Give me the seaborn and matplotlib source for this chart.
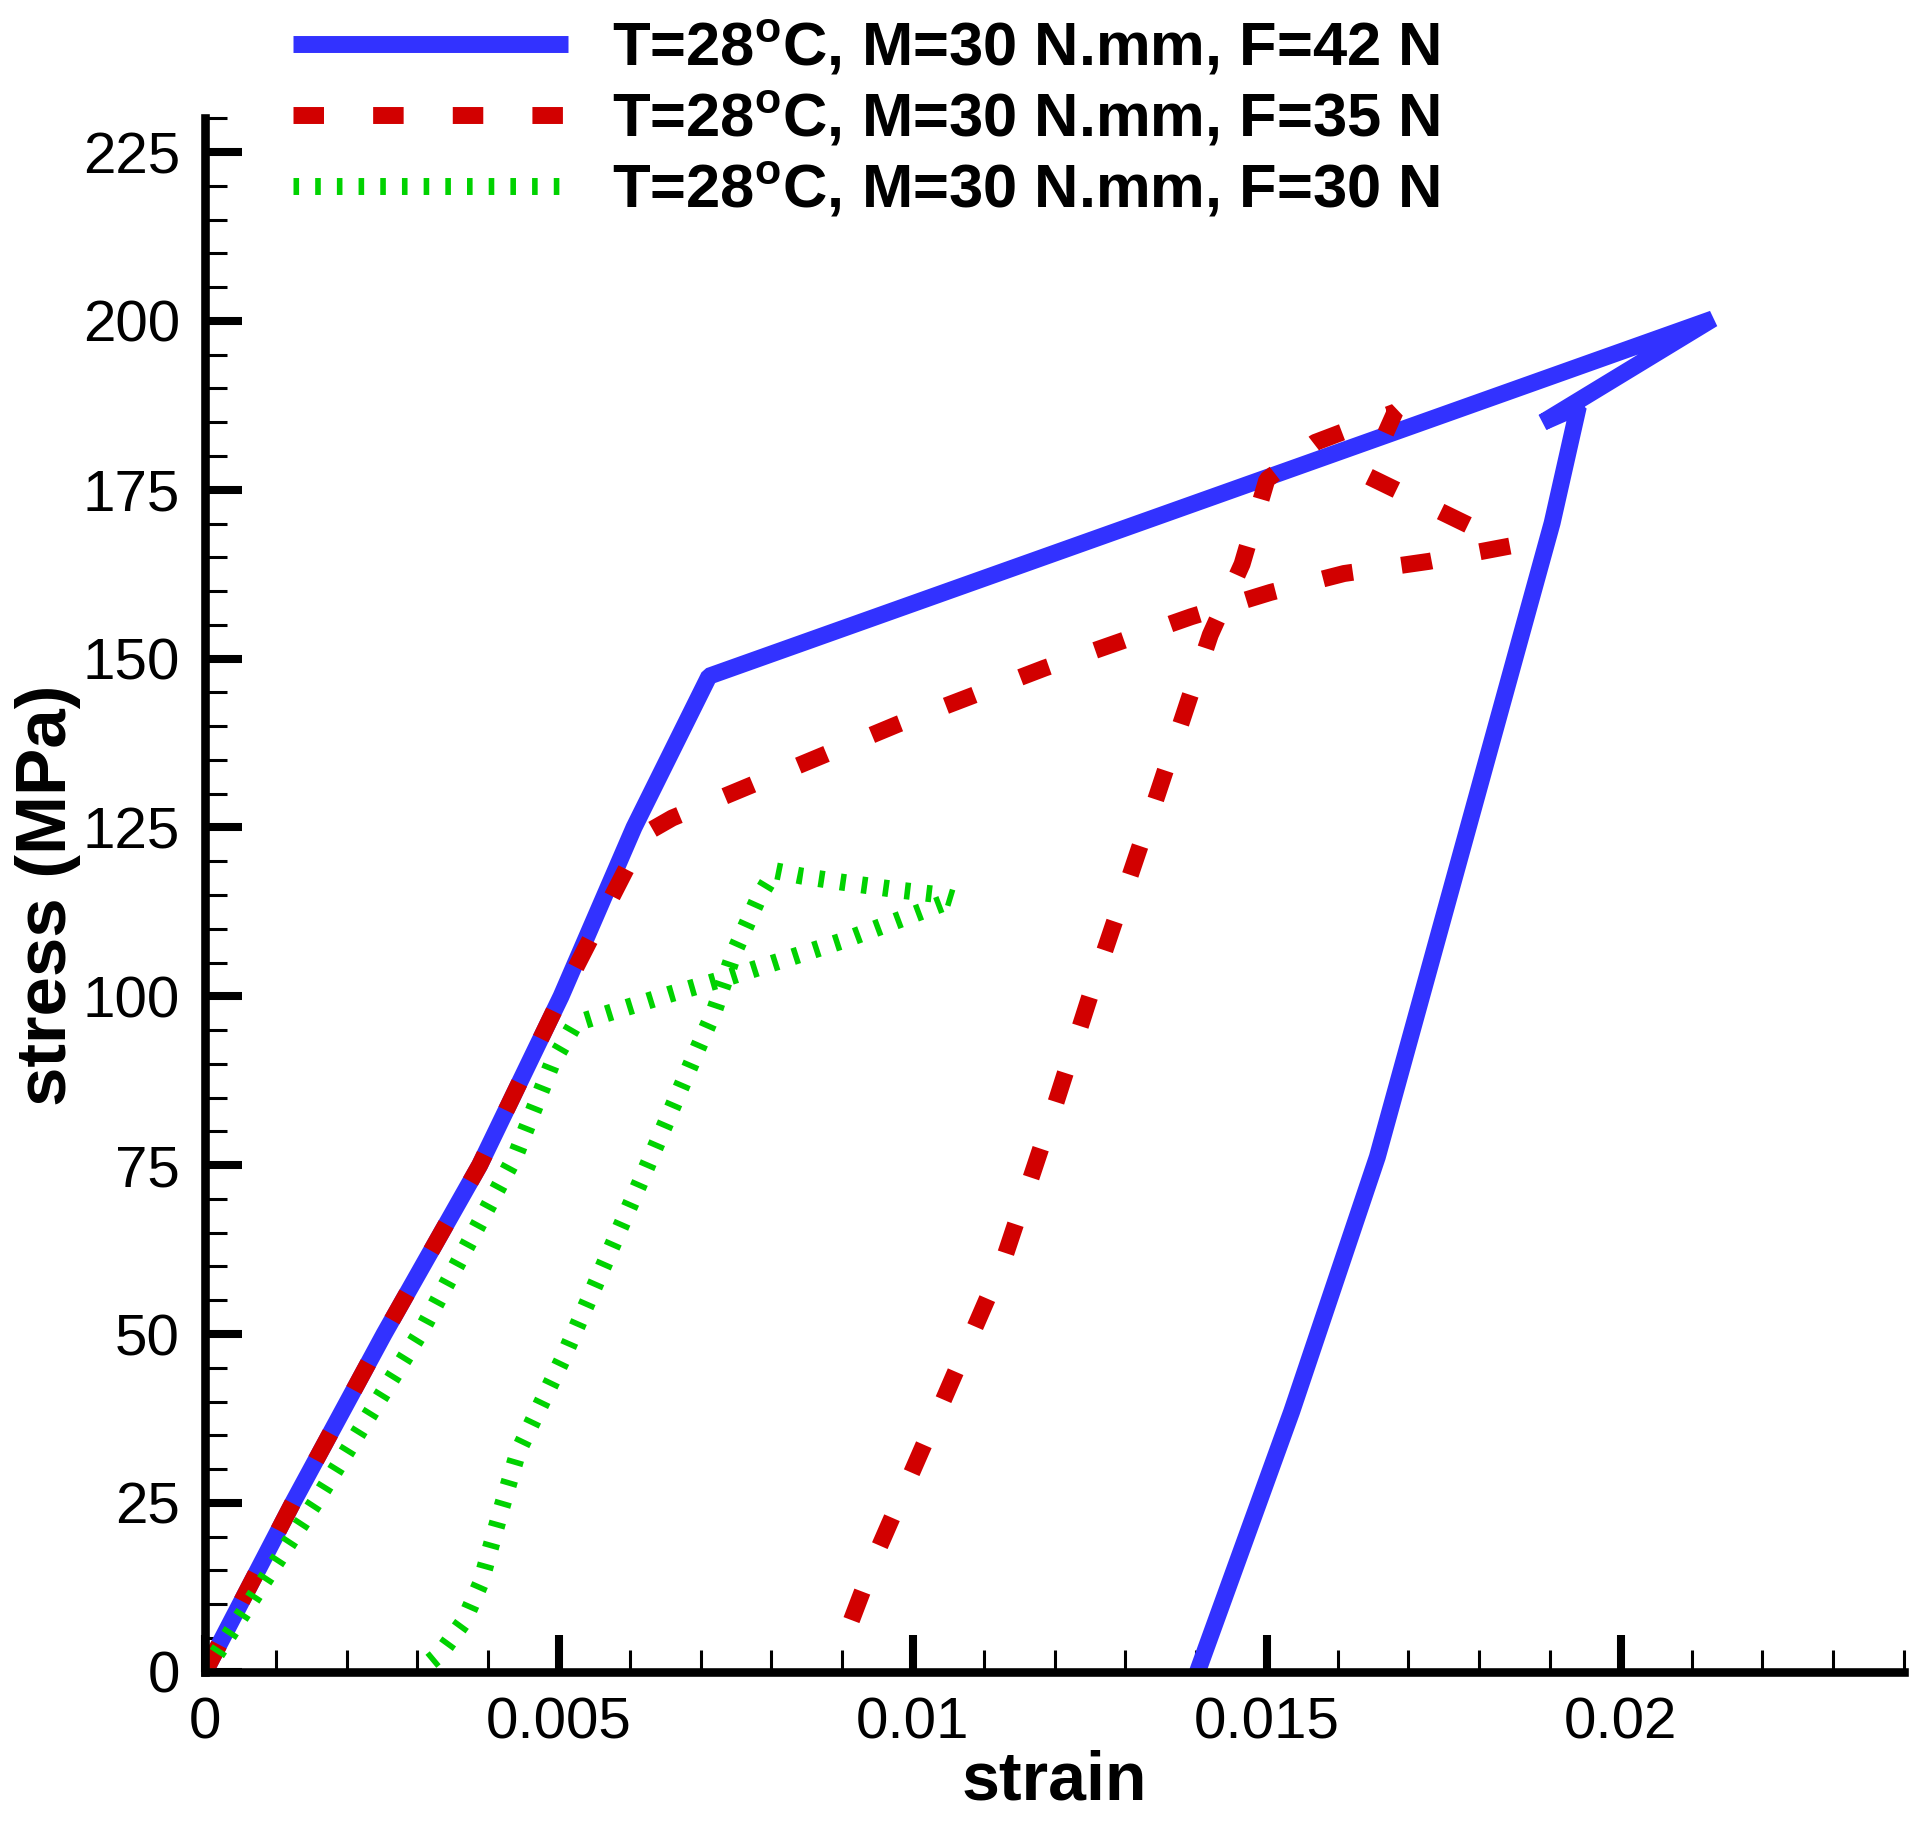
import numpy as np
import pandas as pd
import matplotlib
matplotlib.use("Agg")
import matplotlib.pyplot as plt
from matplotlib.ticker import MultipleLocator, FuncFormatter
import seaborn as sns

# ---- data ----
labels = [r"T=28$^{\mathbf{o}}$C, M=30 N.mm, F=42 N",
          r"T=28$^{\mathbf{o}}$C, M=30 N.mm, F=35 N",
          r"T=28$^{\mathbf{o}}$C, M=30 N.mm, F=30 N"]

blue_x = [0, 0.00124, 0.00253, 0.00388, 0.00503, 0.00606, 0.00712, 0.0213,
          0.0189, 0.0194, 0.01903, 0.01656, 0.01535, 0.01402]
blue_y = [0, 25, 50, 75, 100, 125, 147.4, 200.3,
          185.0, 187.3, 170.1, 76.2, 38.5, 0]

red_x = [0, 0.00124, 0.00253, 0.00388, 0.00503, 0.0062, 0.0066, 0.00979,
         0.01186, 0.01393, 0.01505, 0.01609, 0.01729, 0.01845, 0.01641,
         0.01681, 0.01568, 0.0150, 0.01465, 0.0142, 0.0134, 0.01264,
         0.01195, 0.01126, 0.0104, 0.00953, 0.0090]
red_y = [0, 25, 50, 75, 100, 124, 126.4, 140.3,
         148.6, 156.2, 159.8, 162.6, 164.4, 166.7, 177.1,
         186.5, 182.0, 176.5, 164, 153.5, 128.2, 104.6,
         82, 60.3, 39.5, 18.6, 4]

green_x = [0, 0.00157, 0.00306, 0.00439, 0.0049, 0.00523, 0.00656, 0.00739,
           0.0082, 0.009, 0.0098, 0.01059, 0.0104, 0.00983, 0.009, 0.00843,
           0.00805, 0.00782, 0.00747, 0.0072, 0.00697, 0.00619, 0.00505,
           0.00442, 0.00419, 0.00389, 0.00366, 0.00333, 0.00305]
green_y = [0, 25.25, 50.5, 76.5, 90, 96, 100.3, 102.8,
           105.5, 108.2, 111.3, 114.4, 115.0, 115.7, 116.9, 117.8,
           118.6, 114.6, 106.4, 98, 92.5, 73.5, 46.25,
           32.5, 24.25, 13, 7.5, 2.75, 0.3]

x_major = [0, 0.005, 0.01, 0.015, 0.02]
y_major = [0, 25, 50, 75, 100, 125, 150, 175, 200, 225]

# ---- style ----
sns.set_theme(style="white")
plt.rcParams["font.family"] = ["Liberation Sans", "DejaVu Sans"]
plt.rcParams["mathtext.fontset"] = "custom"
plt.rcParams["mathtext.rm"] = "Liberation Sans"
plt.rcParams["mathtext.bf"] = "Liberation Sans:bold"
plt.rcParams["text.color"] = "black"
plt.rcParams["axes.labelcolor"] = "black"
plt.rcParams["xtick.color"] = "black"
plt.rcParams["ytick.color"] = "black"

DPI = 100
fig = plt.figure(figsize=(19.17, 18.21), dpi=DPI)
ax = fig.add_axes([205 / 1917, 149.3 / 1821, (1904 - 205) / 1917, (1671.7 - 118.3) / 1821])

LW = 12.2  # points (~17 px)
series = [
    (blue_x, blue_y, "#3232ff", "-"),
    (red_x, red_y, "#d20000", (0, (1.8, 2.9))),
    (green_x, green_y, "#00d200", (0, (0.33, 0.95))),
]
for (xs, ys, col, ls), lab in zip(series, labels):
    df = pd.DataFrame({"strain": xs, "stress": ys})
    sns.lineplot(data=df, x="strain", y="stress", sort=False, estimator=None,
                 color=col, linewidth=LW, linestyle=ls, label=lab, ax=ax,
                 solid_capstyle="butt", solid_joinstyle="bevel",
                 dash_capstyle="butt", dash_joinstyle="bevel")

ax.set_xlim(0, 0.024)
ax.set_ylim(0, 230)
ax.xaxis.set_major_locator(plt.FixedLocator(x_major))
ax.yaxis.set_major_locator(plt.FixedLocator(y_major))
ax.xaxis.set_minor_locator(MultipleLocator(0.001))
ax.yaxis.set_minor_locator(MultipleLocator(5))
ax.xaxis.set_major_formatter(FuncFormatter(lambda v, p: f"{v:g}"))
ax.yaxis.set_major_formatter(FuncFormatter(lambda v, p: f"{v:g}"))

for s in ["top", "right"]:
    ax.spines[s].set_visible(False)
for s in ["left", "bottom"]:
    ax.spines[s].set_linewidth(6.2)
    ax.spines[s].set_color("black")

ax.tick_params(which="major", direction="in", length=26.5, width=5.8,
               labelsize=42, colors="black", pad=18)
ax.tick_params(which="minor", direction="in", length=15.8, width=2.2,
               colors="black")
ax.tick_params(axis="x", which="both", bottom=True, top=False)
ax.tick_params(axis="y", which="both", left=True, right=False)

ax.set_xlabel("strain", fontsize=49, fontweight="bold", labelpad=-1)
ax.set_ylabel("stress (MPa)", fontsize=51, fontweight="bold", labelpad=1)

handles, labs = ax.get_legend_handles_labels()
ax.get_legend().remove()
fig.legend(handles, labs, loc="upper left", bbox_to_anchor=(293 / 1917, 0.990),
           frameon=False, prop={"weight": "bold", "size": 44.3},
           handlelength=4.47, handletextpad=0.72, labelspacing=0.18,
           borderpad=0, borderaxespad=0)

fig.savefig("out.png", dpi=DPI)
